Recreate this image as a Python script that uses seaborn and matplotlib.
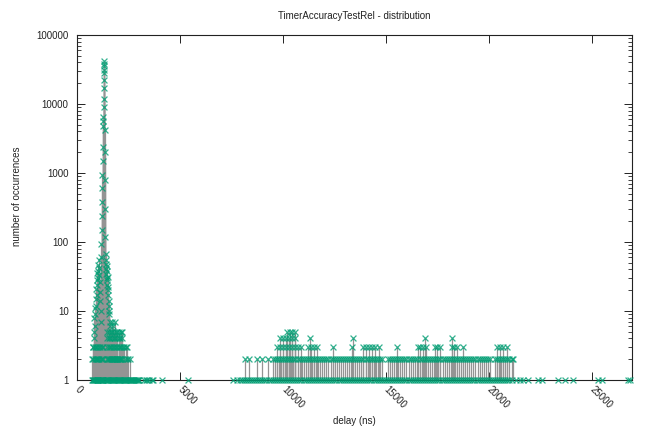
import matplotlib
matplotlib.use("Agg")
import matplotlib.pyplot as plt
import matplotlib.ticker as mticker
import numpy as np
import pandas as pd
import seaborn as sns

# Timer delay histogram: delay (ns) and number of occurrences per bin.

# Main peak region (fine bins, wide range of counts)
peak_x = [800, 815, 830, 845, 860, 875, 890, 905, 920, 935, 950, 965, 980, 995,
          1010, 1025, 1040, 1055, 1070, 1085, 1100, 1115, 1130, 1145, 1160,
          1175, 1185, 1195, 1205, 1215, 1225, 1235, 1245, 1255, 1265, 1275,
          1285, 1295, 1300, 1305, 1310, 1315, 1320, 1325, 1330, 1335, 1340,
          1350, 1360, 1370, 1380, 1390, 1400, 1410, 1420, 1430, 1440, 1450,
          1460, 1470, 1480, 1490, 1500, 1510, 1520, 1530, 1540, 1550, 1560,
          1580, 1600]
peak_n = [3, 5, 4, 8, 6, 11, 9, 15, 12, 21, 17, 28, 24, 35,
          30, 46, 38, 54, 42, 33, 26, 19, 14, 10, 7,
          60, 95, 150, 240, 380, 600, 950, 1500, 2400, 4800, 5600,
          6400, 12000, 22000, 31000, 38000, 42000, 36000, 28000, 17000, 9000, 4200,
          2000, 800, 300, 120, 68, 55, 48, 40, 34, 45, 30,
          38, 28, 24, 31, 20, 17, 22, 14, 12, 10, 9,
          7, 6]

# Bins seen exactly once
ones_x = [740, 770, 800, 830, 860, 890, 920, 950, 980, 1010, 1040, 1070, 1100,
          1130, 1160, 1190, 1220, 1250, 1280,
          1360, 1400, 1440, 1480, 1520, 1560, 1600, 1640, 1690, 1730, 1770,
          1810, 1850, 1890, 1940, 1980, 2020, 2060, 2100, 2140, 2190, 2230,
          2270, 2310, 2350, 2390, 2440, 2480, 2520, 2560, 2600, 2640, 2690,
          2730, 2770, 2810, 2850, 2890, 2940, 2980, 3010,
          3250, 3330, 3420, 3520, 3620, 3700, 4150, 5380,
          7570, 7770, 7900, 8000, 8100, 8200, 8300, 8400, 8500, 8600, 8700,
          8800, 8900, 9000, 9100, 9200, 9300, 9400, 9500, 9600, 9700, 9800,
          9900, 10000, 10100, 10200, 10300, 10400, 10500, 10600, 10700, 10800,
          10900, 11000, 11100, 11200, 11300, 11400, 11500, 11600, 11700, 11800,
          11900, 12000, 12100, 12200, 12300, 12400, 12500, 12600, 12700, 12800,
          12900, 13000, 13100, 13200, 13300, 13400, 13500, 13600, 13700, 13800,
          13900, 14000, 14100, 14200, 14300, 14400, 14500, 14600, 14700, 14800,
          14900, 15000, 15100, 15200, 15300, 15400, 15500, 15600, 15700, 15800,
          15900, 16000, 16100, 16200, 16300, 16400, 16500, 16600, 16700, 16800,
          16900, 17000, 17100, 17200, 17300, 17400, 17500, 17600, 17700, 17800,
          17900, 18000, 18100, 18200, 18300, 18400, 18500, 18600, 18700, 18800,
          18900, 19000, 19100, 19200, 19300, 19400, 19500, 19600, 19700, 19800,
          19900, 20000, 20100, 20200, 20300, 20400, 20500, 20600, 20700, 20800,
          20900, 21000, 21100,
          21340, 21500, 21660, 21900, 22380, 22570, 23350, 23690, 24080,
          25290, 25480, 26750, 26850]

# Bins seen twice
twos_x = [730, 790, 850, 910, 970, 1030, 1090, 1150, 1210, 1260,
          1470, 1520, 1570, 1610, 1650, 1680, 1720, 1750, 1790, 1820, 1860,
          1890, 1930, 1960, 2000, 2030, 2070, 2100, 2140, 2180,
          2330, 2410, 2490, 2570,
          8160, 8350, 8720, 8970, 9290, 9530,
          9610, 9710, 9810, 9910, 10010, 10110, 10210, 10310, 10410, 10510,
          10610, 10710, 10810, 10910, 11010, 11110, 11210, 11310, 11410, 11510,
          11610, 11710, 11810, 11910, 12010, 12110, 12210, 12310, 12410, 12510,
          12610, 12710, 12810, 12910, 13010, 13110, 13210, 13310, 13410, 13510,
          13610, 13710, 13810, 13910, 14010, 14110, 14210, 14310, 14410, 14510,
          14610, 14710, 14810,
          15100, 15200, 15300, 15400, 15500, 15600, 15700, 15800, 15900, 16000,
          16100, 16200, 16300, 16400, 16500, 16650, 16750, 16850, 16950, 17050,
          17150, 17250, 17350, 17450, 17550, 17650, 17750, 17850, 17950, 18050,
          18150, 18250, 18350, 18450, 18550, 18650, 18750, 18850, 18950, 19050,
          19150, 19250, 19350, 19450, 19550, 19650, 19750, 19850, 19950, 20050,
          20300, 20400, 20500, 20600, 20700, 20800, 20900, 21000, 21100, 21150]

# Bins seen three times
threes_x = [780, 850, 920, 990, 1060, 1130, 1200, 1260,
            1460, 1530, 1600, 1670, 1740, 1810, 1880, 1950, 2020, 2090, 2160,
            2230, 2300, 2370, 2430,
            9700, 9850, 10000, 10150, 10300, 10450, 10600, 10750, 10900,
            11210, 11360, 11500, 11650, 12430, 13350, 13880, 14030, 14180,
            14330, 14480, 14650, 15530, 16550, 16650, 16800, 16950, 17380,
            17500, 17620, 18200, 18330, 18450, 18740, 20390, 20540, 20700, 20870]

# Bins seen four times
fours_x = [1460, 1540, 1620, 1700, 1780, 1860, 1940, 2020, 2100, 2180,
           9850, 10000, 10150, 10300, 10450, 10580, 11310, 13400, 16890, 18200]

# Bins seen five times
fives_x = [1480, 1560, 1640, 1720, 1800, 1880, 1960, 2040, 2120, 2180,
           10200, 10330, 10450, 10580]

# A few bins with six / seven hits in the shoulder
upper_x = [1700, 1760, 1840]
upper_n = [7, 6, 7]

x_ticks = [0, 5000, 10000, 15000, 20000, 25000]
y_ticks = [1, 10, 100, 1000, 10000, 100000]

delay = (peak_x + ones_x + twos_x + threes_x + fours_x + fives_x + upper_x)
count = (peak_n + [1] * len(ones_x) + [2] * len(twos_x) + [3] * len(threes_x)
         + [4] * len(fours_x) + [5] * len(fives_x) + upper_n)
df = pd.DataFrame({"delay": delay, "count": count}).sort_values("delay")

sns.set_style("ticks")
plt.rcParams["font.family"] = ["Liberation Sans", "DejaVu Sans"]
text_color = "#222222"

fig = plt.figure(figsize=(6.64, 4.33), dpi=100)
W, H = 664, 433
ax = fig.add_axes([77 / W, 1 - 380 / H, (632 - 77) / W, (380 - 35) / H])

# impulses from the baseline to each count
ax.vlines(df["delay"], 1, df["count"], color="#949494", lw=0.9, zorder=1)
sns.scatterplot(data=df, x="delay", y="count", marker="x", color="#009e73",
                s=18, linewidth=0.9, alpha=0.8, ax=ax, zorder=3, legend=False,
                clip_on=False)

ax.set_yscale("log")
ax.set_xlim(0, 26950)
ax.set_ylim(1, 100000)
ax.set_xticks(x_ticks)
ax.set_xticklabels([str(v) for v in x_ticks], rotation=-45, ha="left",
                   va="center", rotation_mode="anchor", fontsize=7, color=text_color)
ax.set_yticks(y_ticks)
ax.set_yticklabels([str(v) for v in y_ticks], fontsize=7, color=text_color)
ax.yaxis.set_minor_locator(mticker.LogLocator(base=10, subs=np.arange(2, 10)))
ax.yaxis.set_minor_formatter(mticker.NullFormatter())
ax.xaxis.set_minor_locator(mticker.NullLocator())
ax.tick_params(axis="both", which="major", direction="in", top=True, right=True,
               length=5.5, width=0.7, color="#222222")
ax.tick_params(axis="y", which="minor", direction="in", left=True, right=True,
               length=2.8, width=0.6, color="#222222")
ax.tick_params(axis="y", which="major", pad=6)
ax.tick_params(axis="x", which="major", pad=6)
for sp in ax.spines.values():
    sp.set_linewidth(0.8)
    sp.set_color("#222222")
    sp.set_visible(True)
    sp.set_zorder(2)

ax.set_xlabel("")
ax.set_ylabel("")
fig.text(354 / W, 1 - 16 / H, "TimerAccuracyTestRel - distribution", ha="center",
         va="center", fontsize=7, color=text_color)
fig.text(354 / W, 1 - 421 / H, "delay (ns)", ha="center", va="center",
         fontsize=7, color=text_color)
fig.text(17 / W, 1 - 196 / H, "number of occurrences", ha="center", va="center",
         rotation=90, fontsize=7, color=text_color)

fig.savefig("out.png", dpi=100, facecolor="white")
